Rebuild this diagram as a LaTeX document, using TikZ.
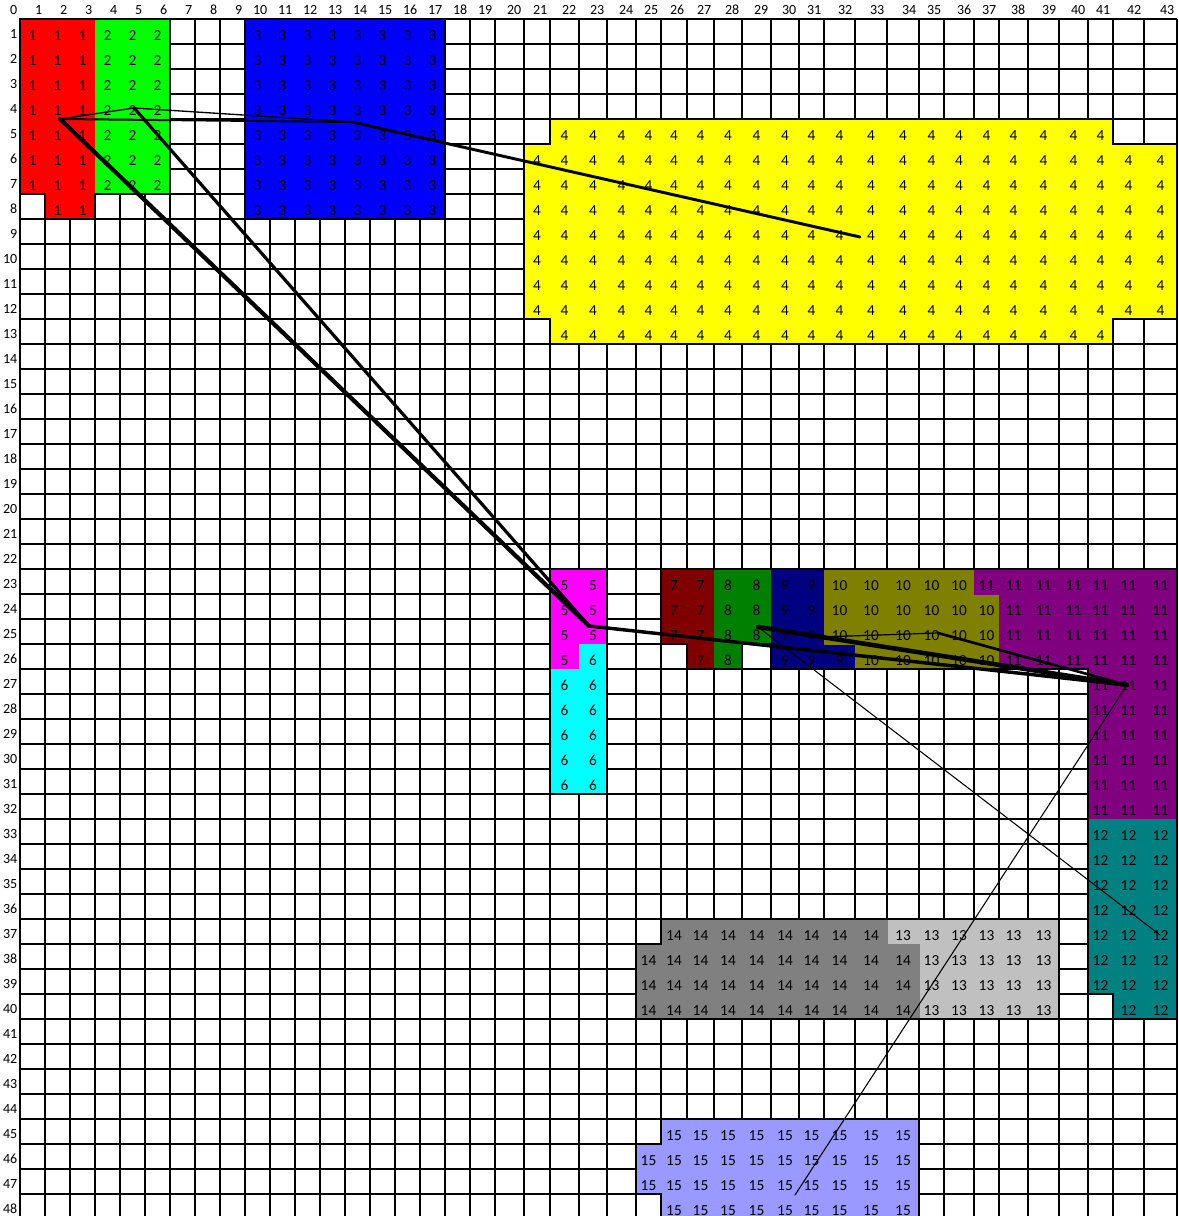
\documentclass[tikz,border=0pt]{standalone}
\usepackage{fontspec}
\setmainfont{Carlito}
\usepackage{tikz}
\usetikzlibrary{positioning,calc}
% colores de las zonas
\definecolor{reg1}{HTML}{FF0000}
\definecolor{reg2}{HTML}{00FF00}
\definecolor{reg3}{HTML}{0000FF}
\definecolor{reg4}{HTML}{FFFF00}
\definecolor{reg5}{HTML}{FF00FF}
\definecolor{reg6}{HTML}{00FFFF}
\definecolor{reg7}{HTML}{800000}
\definecolor{reg8}{HTML}{008000}
\definecolor{reg9}{HTML}{000080}
\definecolor{reg10}{HTML}{808000}
\definecolor{reg11}{HTML}{800080}
\definecolor{reg12}{HTML}{008080}
\definecolor{reg13}{HTML}{C0C0C0}
\definecolor{reg14}{HTML}{808080}
\definecolor{reg15}{HTML}{9999FF}
\tikzset{
	gridline/.style = {
		draw=black,
		line width=0.8pt
	},
	cellnum/.style = {
		font=\fontsize{11.5}{13}\selectfont,
		inner sep=0pt,
		anchor=base
	},
	headnum/.style = {
		font=\fontsize{10.5}{12}\selectfont,
		inner sep=0pt,
		anchor=base east
	},
	link/.style = {
		draw=black,
		line cap=round,
		line join=round
	}
}
% borde derecho de cada columna (px)
\def\colx{{20,45,70,95,120,145,170,195,220,245,270,295,320,345,370,395,420,445,470,495,524,550,579,607,636,661,687,714,742,771,799,824,855,887,919,944,974,999,1028,1059,1088,1113,1144,1177}}
% bloque de celdas: col ini, col fin, fila ini, fila fin, color, numero
\newcommand{\blk}[6]{%
	\pgfmathtruncatemacro{\blkia}{#1-1}
	\pgfmathsetmacro{\blkxa}{\colx[\blkia]}
	\pgfmathsetmacro{\blkxb}{\colx[#2]}
	\path[fill=#5, draw=#5, line width=0.4pt]
	(\blkxa,{19+25*(#3-1)}) rectangle (\blkxb,{19+25*#4});
	\foreach \ci in {#1,...,#2}{
		\pgfmathtruncatemacro{\blkcj}{\ci-1}
		\pgfmathsetmacro{\blkxl}{\colx[\blkcj]}
		\pgfmathsetmacro{\blkxr}{\colx[\ci]}
		\pgfmathsetmacro{\blkxm}{(\blkxl+\blkxr)/2}
		\foreach \ri in {#3,...,#4}{
			\node[cellnum] (n\ci-\ri) at (\blkxm,{19+25*\ri-3.5}) {#6};
	}}}

\begin{document}
\begin{tikzpicture}[x=0.75pt, y=-0.75pt]
	
	\clip (0,0) rectangle (1178,1216);
	\fill[white] (0,0) rectangle (1178,1216);
	
	% --- CUADRICULA ---
	\foreach \k in {0,...,43}
	\draw[gridline] ({\colx[\k]},19) -- ({\colx[\k]},1216);
	\foreach \r in {0,...,48}
	\draw[gridline] (20,{19+25*\r}) -- (1177,{19+25*\r});
	
	% --- ENCABEZADOS ---
	\foreach \k in {0,...,43}
	\node[headnum] (col\k) at ({\colx[\k]-2.5},15) {\k};
	\foreach \r in {1,...,48}
	\node[headnum] (row\r) at (17.5,{19+25*\r-5.5}) {\r};
	
	% --- ZONAS ---
	\blk{1}{3}{1}{7}{reg1}{1}
	\blk{2}{3}{8}{8}{reg1}{1}
	\blk{4}{6}{1}{7}{reg2}{2}
	\blk{10}{17}{1}{8}{reg3}{3}
	\blk{22}{41}{5}{5}{reg4}{4}
	\blk{21}{43}{6}{12}{reg4}{4}
	\blk{22}{41}{13}{13}{reg4}{4}
	\blk{22}{23}{23}{25}{reg5}{5}
	\blk{22}{22}{26}{26}{reg5}{5}
	\blk{23}{23}{26}{26}{reg6}{6}
	\blk{22}{23}{27}{31}{reg6}{6}
	\blk{26}{27}{23}{25}{reg7}{7}
	\blk{27}{27}{26}{26}{reg7}{7}
	\blk{28}{29}{23}{25}{reg8}{8}
	\blk{28}{28}{26}{26}{reg8}{8}
	\blk{30}{31}{23}{25}{reg9}{9}
	\blk{30}{32}{26}{26}{reg9}{9}
	\blk{32}{36}{23}{23}{reg10}{10}
	\blk{32}{37}{24}{25}{reg10}{10}
	\blk{33}{37}{26}{26}{reg10}{10}
	\blk{37}{43}{23}{23}{reg11}{11}
	\blk{38}{43}{24}{26}{reg11}{11}
	\blk{41}{43}{27}{32}{reg11}{11}
	\blk{41}{43}{33}{39}{reg12}{12}
	\blk{42}{43}{40}{40}{reg12}{12}
	\blk{34}{39}{37}{37}{reg13}{13}
	\blk{35}{39}{38}{40}{reg13}{13}
	\blk{26}{33}{37}{37}{reg14}{14}
	\blk{25}{34}{38}{40}{reg14}{14}
	\blk{26}{34}{45}{45}{reg15}{15}
	\blk{25}{34}{46}{47}{reg15}{15}
	\blk{26}{34}{48}{48}{reg15}{15}
	
	% contornos de las zonas
	\draw[gridline] (20,19) -- (170,19) -- (170,194) -- (95,194) -- (95,219) -- (45,219) -- (45,194) -- (20,194) -- cycle;
	\draw[gridline] (245,19) rectangle (445,219);
	\draw[gridline] (550,119) -- (1113,119) -- (1113,144) -- (1177,144) -- (1177,319) -- (1113,319) -- (1113,344) -- (550,344) -- (550,319) -- (524,319) -- (524,144) -- (550,144) -- cycle;
	\draw[gridline] (550,569) rectangle (607,794);
	\draw[gridline] (661,569) -- (1177,569) -- (1177,1019) -- (1113,1019) -- (1113,994) -- (1088,994) -- (1088,669) -- (771,669) -- (771,644) -- (742,644) -- (742,669) -- (687,669) -- (687,644) -- (661,644) -- cycle;
	\draw[gridline] (661,919) -- (1059,919) -- (1059,1019) -- (636,1019) -- (636,944) -- (661,944) -- cycle;
	\draw[gridline] (661,1119) -- (919,1119) -- (919,1219) -- (661,1219) -- (661,1194) -- (636,1194) -- (636,1144) -- (661,1144) -- cycle;
	
	% --- PUNTOS ---
	\coordinate (pt1) at (60,119);
	\coordinate (pt2) at (134,108);
	\coordinate (pt3) at (352,122);
	\coordinate (pt4) at (860,237);
	\coordinate (pt5) at (589,626);
	\coordinate (pt6) at (758,627);
	\coordinate (pt7) at (820,637);
	\coordinate (pt8) at (938,633);
	\coordinate (pt9) at (1127,685);
	\coordinate (pt10) at (1160,935);
	\coordinate (pt11) at (795,1195);
	
	% --- TRAZOS ---
	\draw[link, line width=1pt] (pt1) -- (pt2);
	\draw[link, line width=1.5pt] (pt1) -- (pt3);
	\draw[link, line width=1pt] (pt2) -- (pt3);
	\draw[link, line width=2.2pt] (pt3) -- (pt4);
	\draw[link, line width=3.2pt] (pt1) -- (pt5);
	\draw[link, line width=2.4pt] (pt2) -- (pt5);
	\draw[link, line width=2.6pt] (pt5) -- (pt9);
	\draw[link, line width=3.4pt] (pt6) -- (pt9);
	\draw[link, line width=0.9pt] (pt7) -- (pt8);
	\draw[link, line width=2pt] (pt8) -- (pt9);
	\draw[link, line width=0.8pt] (pt6) -- (pt10);
	\draw[link, line width=0.8pt] (pt9) -- (pt11);
	
\end{tikzpicture}
\end{document}
